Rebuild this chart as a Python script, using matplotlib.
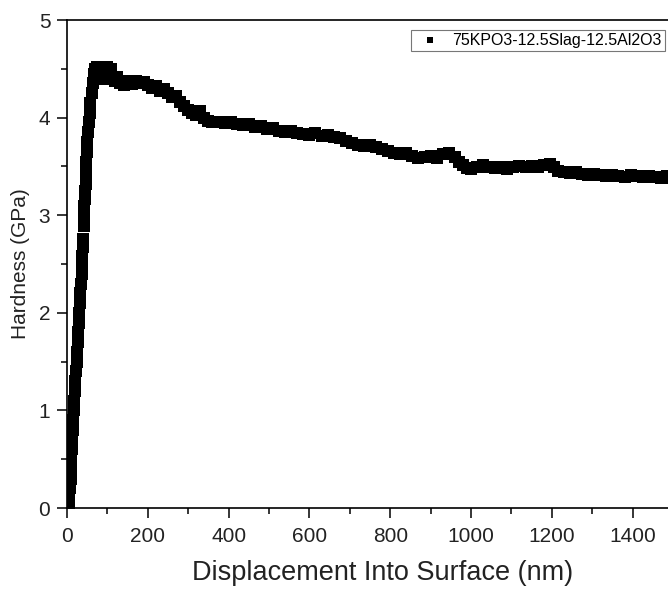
import matplotlib
matplotlib.use("Agg")
import matplotlib.pyplot as plt
from matplotlib.ticker import MultipleLocator

plt.rcParams['font.family'] = ['Liberation Sans', 'DejaVu Sans']

# loading part (steep rise)
rise_x = [4, 6, 7, 9, 10, 11, 12, 13, 14, 16,
          17, 18, 20, 21, 22, 24, 25, 26, 28, 29,
          30, 32, 33, 34, 36, 37, 38, 39, 40, 41,
          42, 43, 44, 45, 46, 47, 48, 49, 50, 52,
          54, 56, 58, 61, 64, 67]
rise_y = [0.00, 0.10, 0.20, 0.30, 0.40, 0.50, 0.60, 0.70, 0.80, 0.90,
          1.00, 1.10, 1.20, 1.30, 1.40, 1.50, 1.60, 1.70, 1.80, 1.90,
          2.00, 2.10, 2.20, 2.30, 2.40, 2.50, 2.58, 2.67, 2.76, 2.885,
          2.97, 3.095, 3.17, 3.245, 3.32, 3.445, 3.55, 3.65, 3.75, 3.85,
          3.95, 4.05, 4.15, 4.25, 4.35, 4.45]

# peak region
peak_x = [70, 74, 78, 82, 86, 90, 94, 98, 102, 106,
          110, 114, 118, 124, 130, 136, 142, 150, 160, 170,
          180, 190, 200, 210, 220, 230, 240, 250, 260, 270,
          280, 290, 300, 310, 320, 330, 340, 350, 360]
peak_y = [4.50, 4.52, 4.49, 4.52, 4.45, 4.51, 4.40, 4.52, 4.47, 4.42,
          4.50, 4.40, 4.38, 4.42, 4.35, 4.38, 4.33, 4.37, 4.34, 4.38,
          4.35, 4.36, 4.33, 4.30, 4.32, 4.27, 4.29, 4.25, 4.21, 4.22,
          4.16, 4.12, 4.08, 4.05, 4.03, 4.07, 4.00, 3.97, 3.96]

# slow decline
mid_x = [375, 390, 405, 420, 435, 450, 465, 480, 495, 510,
         525, 540, 555, 570, 585, 600, 615, 630, 645, 660,
         675, 690, 705, 720, 735, 750, 765, 780, 795, 810,
         825, 840, 855, 870, 885, 900, 915, 930, 945, 960,
         970, 980, 990, 1000]
mid_y = [3.95, 3.94, 3.95, 3.93, 3.92, 3.93, 3.90, 3.91, 3.88, 3.89,
         3.86, 3.85, 3.86, 3.84, 3.83, 3.82, 3.84, 3.81, 3.82, 3.80,
         3.79, 3.76, 3.74, 3.72, 3.71, 3.72, 3.70, 3.68, 3.66, 3.64,
         3.63, 3.64, 3.61, 3.59, 3.60, 3.61, 3.59, 3.63, 3.64, 3.60,
         3.55, 3.51, 3.48, 3.47]

# tail
tail_x = [1015, 1030, 1045, 1060, 1075, 1090, 1105, 1120, 1135, 1150,
          1165, 1180, 1195, 1205, 1215, 1230, 1245, 1260, 1275, 1290,
          1305, 1320, 1335, 1350, 1365, 1380, 1395, 1410, 1425, 1440,
          1455, 1470, 1485, 1500]
tail_y = [3.49, 3.51, 3.49, 3.48, 3.49, 3.47, 3.49, 3.50, 3.49, 3.50,
          3.49, 3.51, 3.52, 3.49, 3.45, 3.44, 3.43, 3.44, 3.42, 3.41,
          3.42, 3.41, 3.40, 3.41, 3.40, 3.39, 3.41, 3.40, 3.39, 3.40,
          3.39, 3.38, 3.40, 3.38]

disp = rise_x + peak_x + mid_x + tail_x
hard = rise_y + peak_y + mid_y + tail_y

fig = plt.figure(figsize=(6.68, 5.89), dpi=100)
# right edge of the axes lies just outside the picture, like the source
ax = fig.add_axes([67 / 668, 81 / 589, 606 / 668, 488 / 589])

ax.plot(disp, hard, 's', color='black', markersize=8, markeredgewidth=0,
        label='75KPO3-12.5Slag-12.5Al2O3')

ax.set_xlim(0, 1500)
ax.set_ylim(0, 5)
ax.xaxis.set_major_locator(MultipleLocator(200))
ax.xaxis.set_minor_locator(MultipleLocator(100))
ax.yaxis.set_major_locator(MultipleLocator(1))
ax.yaxis.set_minor_locator(MultipleLocator(0.5))
ax.tick_params(which='major', direction='out', length=7, width=1.1, labelsize=15,
               labelcolor='#222222')
ax.tick_params(axis='x', which='major', pad=7)
ax.tick_params(axis='y', which='major', pad=5)
ax.tick_params(which='minor', direction='out', length=4, width=1.1)
for s in ax.spines.values():
    s.set_linewidth(1.2)

ax.set_xlabel('Displacement Into Surface (nm)', fontsize=19.5, labelpad=10,
              color='#222222')
ax.xaxis.label.set_x(0.52)
ax.set_ylabel('Hardness (GPa)', fontsize=15, labelpad=6, color='#222222')

leg = ax.legend(loc='upper right', bbox_to_anchor=(665 / 668, 1 - 30 / 589),
                bbox_transform=fig.transFigure, borderaxespad=0, fancybox=False,
                fontsize=11.5, markerscale=0.6, handlelength=2.0, handletextpad=0.4,
                borderpad=0.2)
leg.get_frame().set_edgecolor('#555555')
leg.get_frame().set_linewidth(0.8)

fig.savefig('out.png', dpi=100)
